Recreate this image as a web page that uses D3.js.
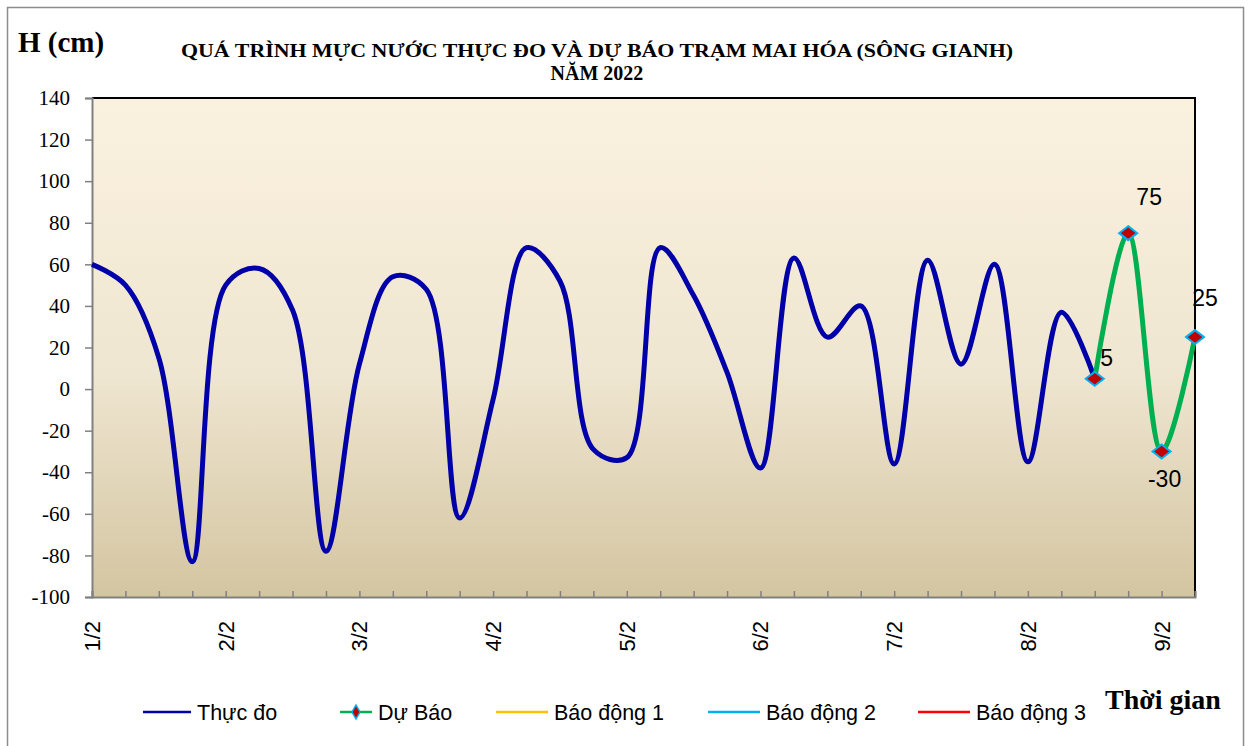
<!DOCTYPE html>
<html>
<head>
<meta charset="utf-8">
<script src="https://cdn.jsdelivr.net/npm/d3@7"></script>
<style>
  body { margin: 0; background: #fff; }
  svg { display: block; }
</style>
</head>
<body>
<script>
// moc thoi gian 6h mot lan, tu 1/2 den 9/2
var times = [
  "1/2 00h", "1/2 06h", "1/2 12h", "1/2 18h",
  "2/2 00h", "2/2 06h", "2/2 12h", "2/2 18h",
  "3/2 00h", "3/2 06h", "3/2 12h", "3/2 18h",
  "4/2 00h", "4/2 06h", "4/2 12h", "4/2 18h",
  "5/2 00h", "5/2 06h", "5/2 12h", "5/2 18h",
  "6/2 00h", "6/2 06h", "6/2 12h", "6/2 18h",
  "7/2 00h", "7/2 06h", "7/2 12h", "7/2 18h",
  "8/2 00h", "8/2 06h", "8/2 12h", "8/2 18h",
  "9/2 00h", "9/2 06h"
];
var dayLabels = ["1/2", "2/2", "3/2", "4/2", "5/2", "6/2", "7/2", "8/2", "9/2"];

// muc nuoc thuc do (cm)
var thucDo = [60, 50, 15, -83, 50, 58, 38, -78, 12, 54, 48, -62, -5, 68, 52, -29,
              -33, 68, 45, 8, -38, 63, 25, 40, -36, 62, 12, 60, -35, 37, 5];
// du bao (cm), bat dau tu diem cuoi cua thuc do
var duBaoTimes = ["8/2 12h", "8/2 18h", "9/2 00h", "9/2 06h"];
var duBao = [5, 75, -30, 25];

var yTicks = [-100, -80, -60, -40, -20, 0, 20, 40, 60, 80, 100, 120, 140];

var legendNames = ["Thực đo", "Dự Báo", "Báo động 1", "Báo động 2", "Báo động 3"];
var legendColors = ["#0000a8", "#00b050", "#ffc000", "#00b0f0", "#ff0000"];

var width = 1253, height = 746;
var pLeft = 92, pRight = 1195, pTop = 98, pBottom = 597;
var serif = "'Liberation Serif', 'Times New Roman', serif";
var sans = "'Liberation Sans', Arial, sans-serif";

var svg = d3.select("body").append("svg")
    .attr("width", width)
    .attr("height", height);

// khung ngoai
svg.append("rect")
    .attr("x", 7.5).attr("y", 7.5)
    .attr("width", 1236).attr("height", 760)
    .attr("fill", "none")
    .attr("stroke", "#8c8c8c")
    .attr("stroke-width", 1.5);

var grad = svg.append("defs").append("linearGradient")
    .attr("id", "bg")
    .attr("x1", 0).attr("y1", 0).attr("x2", 0).attr("y2", 1);
grad.append("stop").attr("offset", "0%").attr("stop-color", "#fbf1df");
grad.append("stop").attr("offset", "55%").attr("stop-color", "#efe6d1");
grad.append("stop").attr("offset", "100%").attr("stop-color", "#d4c5a1");

var x = d3.scalePoint().domain(times).range([pLeft, pRight]);
var y = d3.scaleLinear().domain([-100, 140]).range([pBottom, pTop]);

svg.append("rect")
    .attr("x", pLeft).attr("y", pTop)
    .attr("width", pRight - pLeft).attr("height", pBottom - pTop)
    .attr("fill", "url(#bg)");

// vien tren + phai mau den
svg.append("path")
    .attr("d", "M" + pLeft + "," + pTop + "H" + pRight + "V" + pBottom)
    .attr("fill", "none")
    .attr("stroke", "#000")
    .attr("stroke-width", 2);

// truc y
var yAxis = svg.append("g")
    .attr("transform", "translate(" + pLeft + ",0)")
    .call(d3.axisLeft(y).tickValues(yTicks).tickSize(7).tickPadding(15)
        .tickFormat(function(d) { return String(d); }));
yAxis.select(".domain").attr("stroke", "#808080").attr("stroke-width", 2);
yAxis.selectAll(".tick line").attr("stroke", "#808080").attr("stroke-width", 1.5);
yAxis.selectAll("text")
    .style("font-family", serif)
    .style("font-size", "21px")
    .attr("fill", "#000");

// truc x
var xAxis = svg.append("g")
    .attr("transform", "translate(0," + pBottom + ")")
    .call(d3.axisBottom(x).tickSize(-6).tickFormat(""));
xAxis.select(".domain").attr("stroke", "#808080").attr("stroke-width", 2);
xAxis.selectAll(".tick line").attr("stroke", "#808080").attr("stroke-width", 1.5);

svg.selectAll(".day-label")
    .data(dayLabels)
    .enter().append("text")
    .attr("class", "day-label")
    .attr("transform", function(d) {
        return "translate(" + (x(d + " 00h") + 8) + "," + (pBottom + 24) + ") rotate(-90)";
    })
    .attr("text-anchor", "end")
    .style("font-family", sans)
    .style("font-size", "22px")
    .attr("fill", "#000")
    .text(function(d) { return d; });

var line = d3.line()
    .x(function(d) { return x(d.t); })
    .y(function(d) { return y(d.v); })
    .curve(d3.curveCatmullRom.alpha(0.5));

var obs = thucDo.map(function(v, i) { return { t: times[i], v: v }; });
var fc = duBao.map(function(v, i) { return { t: duBaoTimes[i], v: v }; });

svg.append("path")
    .datum(obs)
    .attr("d", line)
    .attr("fill", "none")
    .attr("stroke", legendColors[0])
    .attr("stroke-width", 5)
    .attr("stroke-linejoin", "round");

svg.append("path")
    .datum(fc)
    .attr("d", line)
    .attr("fill", "none")
    .attr("stroke", legendColors[1])
    .attr("stroke-width", 5)
    .attr("stroke-linejoin", "round");

function diamond(w, h) {
    return "M0," + (-h) + "L" + w + ",0L0," + h + "L" + (-w) + ",0Z";
}

svg.selectAll(".fc-point")
    .data(fc)
    .enter().append("path")
    .attr("class", "fc-point")
    .attr("transform", function(d) { return "translate(" + x(d.t) + "," + y(d.v) + ")"; })
    .attr("d", diamond(9, 7))
    .attr("fill", "#c00000")
    .attr("stroke", "#00b0f0")
    .attr("stroke-width", 2);

// nhan so lieu du bao
var labelOffsets = [[12, -13], [21, -28], [3, 36], [10, -31]];
svg.selectAll(".fc-label")
    .data(fc)
    .enter().append("text")
    .attr("class", "fc-label")
    .attr("x", function(d, i) { return x(d.t) + labelOffsets[i][0]; })
    .attr("y", function(d, i) { return y(d.v) + labelOffsets[i][1]; })
    .attr("text-anchor", "middle")
    .style("font-family", sans)
    .style("font-size", "23px")
    .attr("fill", "#000")
    .text(function(d) { return d.v; });

// tieu de
svg.append("text")
    .attr("x", 597).attr("y", 57)
    .attr("text-anchor", "middle")
    .style("font-family", serif)
    .style("font-weight", "bold")
    .style("font-size", "18px")
    .attr("textLength", 832)
    .attr("lengthAdjust", "spacingAndGlyphs")
    .text("QUÁ TRÌNH MỰC NƯỚC THỰC ĐO VÀ DỰ BÁO TRẠM MAI HÓA (SÔNG GIANH)");
svg.append("text")
    .attr("x", 597).attr("y", 80)
    .attr("text-anchor", "middle")
    .style("font-family", serif)
    .style("font-weight", "bold")
    .style("font-size", "20px")
    .text("NĂM  2022");

svg.append("text")
    .attr("x", 18).attr("y", 52)
    .style("font-family", serif)
    .style("font-weight", "bold")
    .style("font-size", "29px")
    .text("H (cm)");

svg.append("text")
    .attr("x", 1105).attr("y", 709)
    .style("font-family", serif)
    .style("font-weight", "bold")
    .style("font-size", "28px")
    .text("Thời gian");

// chu giai
var legendX = [143, 340, 496, 708, 918];
var legendLen = [48, 32, 52, 52, 52];
var legend = svg.selectAll(".legend")
    .data(legendNames)
    .enter().append("g")
    .attr("class", "legend")
    .attr("transform", function(d, i) { return "translate(" + legendX[i] + ",712)"; });

legend.append("line")
    .attr("x1", 0)
    .attr("x2", function(d, i) { return legendLen[i]; })
    .attr("stroke", function(d, i) { return legendColors[i]; })
    .attr("stroke-width", 2.5);

legend.filter(function(d, i) { return i === 1; })
    .append("path")
    .attr("transform", "translate(16,0)")
    .attr("d", diamond(4, 7))
    .attr("fill", "#c00000")
    .attr("stroke", "#00b0f0")
    .attr("stroke-width", 1.5);

legend.append("text")
    .attr("x", function(d, i) { return legendLen[i] + 6; })
    .attr("y", 8)
    .style("font-family", sans)
    .style("font-size", "21.5px")
    .attr("fill", "#000")
    .text(function(d) { return d; });
</script>
</body>
</html>
